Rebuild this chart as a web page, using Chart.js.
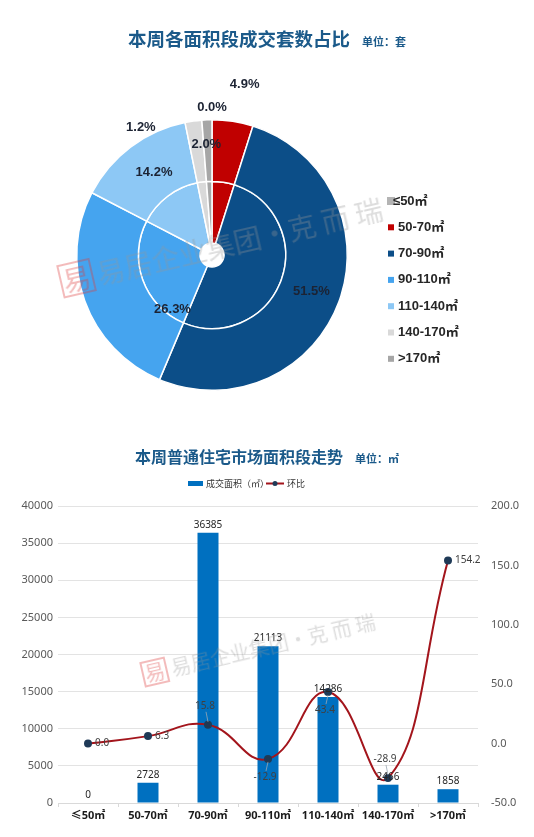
<!DOCTYPE html>
<html>
<head>
<meta charset="utf-8">
<script src="https://cdn.jsdelivr.net/npm/chart.js@4.4.0/dist/chart.umd.min.js"></script>
<style>
  body { margin: 0; background: #fff; }
  #wrap { position: relative; width: 534px; height: 837px; overflow: hidden; font-family: "Noto Sans CJK SC", sans-serif; }
  canvas { position: absolute; left: 0; }
  .title { position: absolute; left: 0; width: 534px; text-align: center; color: #1b5a8a; font-weight: bold; white-space: nowrap; }
  .title small { font-size: 11px; margin-left: 12px; }
  .wm { position: absolute; white-space: nowrap; color: rgba(150,150,150,0.32); transform-origin: left center; pointer-events: none; }
  .seal { display: inline-block; border: 2px solid rgba(220,60,60,0.35); color: rgba(220,60,60,0.35); margin-right: 4px; line-height: 1; padding: 1px; }
</style>
</head>
<body>
<div id="wrap">
  <canvas id="pie" width="534" height="420" style="top:0"></canvas>
  <canvas id="combo" width="534" height="417" style="top:420px"></canvas>
  <div class="title" style="top:25px; font-size:18.5px">本周各面积段成交套数占比<small>单位：套</small></div>
  <div class="title" style="top:444px; font-size:16px">本周普通住宅市场面积段走势<small>单位：㎡</small></div>
  <div class="wm" style="left:60px; top:262px; font-size:28px; transform:rotate(-13deg)"><span class="seal">易</span>易居企业集团·克 而 瑞</div>
  <div class="wm" style="left:142px; top:660px; font-size:20px; transform:rotate(-13deg)"><span class="seal">易</span>易居企业集团·克 而 瑞</div>
</div>
<script>
// data
const areaLabels = ["≤50㎡", "50-70㎡", "70-90㎡", "90-110㎡", "110-140㎡", "140-170㎡", ">170㎡"];
const unitShare = [0.0, 4.9, 51.5, 26.3, 14.2, 2.0, 1.2];
const tradedArea = [0, 2728, 36385, 21113, 14286, 2466, 1858];
const weekChange = [0.0, 6.3, 15.8, -12.9, 43.4, -28.9, 154.2];

Chart.defaults.font.family = "'Noto Sans', 'Noto Sans CJK SC', sans-serif";

const pieColors = ["#b4b4b4", "#c00000", "#0c4e88", "#45a4ef", "#8dc8f5", "#d9d9d9", "#a6a6a6"];

// percent labels around the rings: [angle shift deg, radius]
const pieLabelPlace = [[0, 148], [2, 174], [0, 106], [-34, 67], [2, 101], [5, 111], [-27, 146]];

const pieLabels = {
    id: "pieLabels",
    afterDatasetsDraw(chart) {
        const ctx = chart.ctx;
        const arcs = chart.getDatasetMeta(0).data;
        ctx.save();
        ctx.font = "bold 13px 'Liberation Sans', sans-serif";
        ctx.fillStyle = "#1c2333";
        ctx.textAlign = "center";
        ctx.textBaseline = "middle";
        arcs.forEach((arc, i) => {
            const mid = (arc.startAngle + arc.endAngle) / 2 + pieLabelPlace[i][0] * Math.PI / 180;
            const r = pieLabelPlace[i][1];
            ctx.fillText(unitShare[i].toFixed(1) + "%", arc.x + r * Math.cos(mid), arc.y + r * Math.sin(mid));
        });
        ctx.restore();
    }
};

const pieLegend = {
    id: "pieLegend",
    afterDraw(chart) {
        const ctx = chart.ctx;
        ctx.save();
        ctx.font = "bold 13px 'Liberation Sans', 'Noto Sans CJK SC', sans-serif";
        ctx.textBaseline = "middle";
        areaLabels.forEach((lab, i) => {
            const y = 201 + i * 26.3;
            const s = i == 0 ? 8 : 6;
            ctx.fillStyle = pieColors[i];
            ctx.fillRect(388 - (s - 6) / 2, y - s / 2, s, s);
            ctx.fillStyle = "#262626";
            ctx.fillText(lab, i == 0 ? 393 : 398, y);
        });
        ctx.restore();
    }
};

new Chart(document.getElementById("pie"), {
    type: "doughnut",
    data: {
        labels: areaLabels,
        datasets: [{
            data: unitShare,
            backgroundColor: pieColors,
            borderColor: "#ffffff",
            borderWidth: 1.5
        }, {
            data: unitShare,
            backgroundColor: pieColors,
            borderColor: "#ffffff",
            borderWidth: 1.5
        }]
    },
    options: {
        responsive: false,
        animation: false,
        cutout: 12,
        layout: { padding: { top: 119, bottom: 29, left: 76, right: 186 } },
        plugins: {
            legend: { display: false },
            tooltip: { enabled: false }
        }
    },
    plugins: [pieLabels, pieLegend]
});

// where each change label sits relative to its point
const changePlace = ["right", "right", "above", "below", "below", "above", "right"];

const comboLabels = {
    id: "comboLabels",
    afterDatasetsDraw(chart) {
        const ctx = chart.ctx;
        ctx.save();
        ctx.font = "10px 'Noto Sans', sans-serif";
        ctx.textBaseline = "middle";

        // bar values
        ctx.fillStyle = "#262626";
        ctx.textAlign = "center";
        chart.getDatasetMeta(1).data.forEach((bar, i) => {
            ctx.fillText(String(tradedArea[i]), bar.x, bar.y - 8);
        });

        // change values
        ctx.fillStyle = "#404040";
        chart.getDatasetMeta(0).data.forEach((pt, i) => {
            const txt = weekChange[i].toFixed(1);
            if (changePlace[i] == "right") {
                ctx.textAlign = "left";
                ctx.fillText(txt, pt.x + 7, pt.y);
            } else {
                const dy = changePlace[i] == "above" ? -19 : 18;
                ctx.strokeStyle = "#9aa7b3";
                ctx.lineWidth = 0.8;
                ctx.beginPath();
                ctx.moveTo(pt.x, pt.y + (dy > 0 ? 3 : -3));
                ctx.lineTo(pt.x - 2, pt.y + dy + (dy > 0 ? -6 : 6));
                ctx.stroke();
                ctx.textAlign = "center";
                ctx.fillText(txt, pt.x - 3, pt.y + dy);
            }
        });
        ctx.restore();
    }
};

const comboLegend = {
    id: "comboLegend",
    afterDraw(chart) {
        const ctx = chart.ctx;
        ctx.save();
        ctx.fillStyle = "#0070c0";
        ctx.fillRect(188, 61, 15, 5);
        ctx.font = "9px 'Noto Sans CJK SC', sans-serif";
        ctx.textBaseline = "middle";
        ctx.fillStyle = "#333333";
        ctx.fillText("成交面积（㎡）", 206, 63.5);
        ctx.strokeStyle = "#a3151c";
        ctx.lineWidth = 2;
        ctx.beginPath();
        ctx.moveTo(266, 63.5);
        ctx.lineTo(284, 63.5);
        ctx.stroke();
        ctx.fillStyle = "#1f3a57";
        ctx.beginPath();
        ctx.arc(275, 63.5, 2.5, 0, Math.PI * 2);
        ctx.fill();
        ctx.fillStyle = "#333333";
        ctx.fillText("环比", 287, 63.5);
        ctx.restore();
    }
};

new Chart(document.getElementById("combo"), {
    data: {
        labels: areaLabels,
        datasets: [{
            type: "line",
            label: "环比",
            data: weekChange,
            yAxisID: "y1",
            borderColor: "#a3151c",
            borderWidth: 2,
            tension: 0.45,
            pointRadius: 3,
            pointBackgroundColor: "#1f3a57",
            pointBorderColor: "#1f3a57",
            order: 0
        }, {
            type: "bar",
            label: "成交面积（㎡）",
            data: tradedArea,
            yAxisID: "y",
            backgroundColor: "#0070c0",
            barPercentage: 0.35,
            categoryPercentage: 1,
            order: 1
        }]
    },
    options: {
        responsive: false,
        animation: false,
        layout: { padding: { top: 86, left: 0, right: 0, bottom: 0 } },
        plugins: {
            legend: { display: false },
            tooltip: { enabled: false }
        },
        scales: {
            x: {
                grid: { offset: true, drawOnChartArea: false, color: "#d9d9d9", tickLength: 4 },
                border: { color: "#d9d9d9" },
                ticks: { color: "#1a1a1a", font: { size: 11, weight: "bold" }, padding: 2, maxRotation: 0, autoSkip: false },
                afterFit(s) { s.height = 34; }
            },
            y: {
                position: "left",
                min: 0,
                max: 40000,
                ticks: { stepSize: 5000, color: "#595959", font: { size: 11 }, padding: 5, callback: v => String(v) },
                grid: { color: "#e3e3e3", drawTicks: false },
                border: { display: false },
                afterFit(s) { s.width = 58; }
            },
            y1: {
                position: "right",
                min: -50,
                max: 200,
                ticks: { stepSize: 50, color: "#595959", font: { size: 11 }, padding: 5, callback: v => v.toFixed(1) },
                grid: { display: false },
                border: { display: false },
                afterFit(s) { s.width = 56; }
            }
        }
    },
    plugins: [comboLabels, comboLegend]
});
</script>
</body>
</html>
